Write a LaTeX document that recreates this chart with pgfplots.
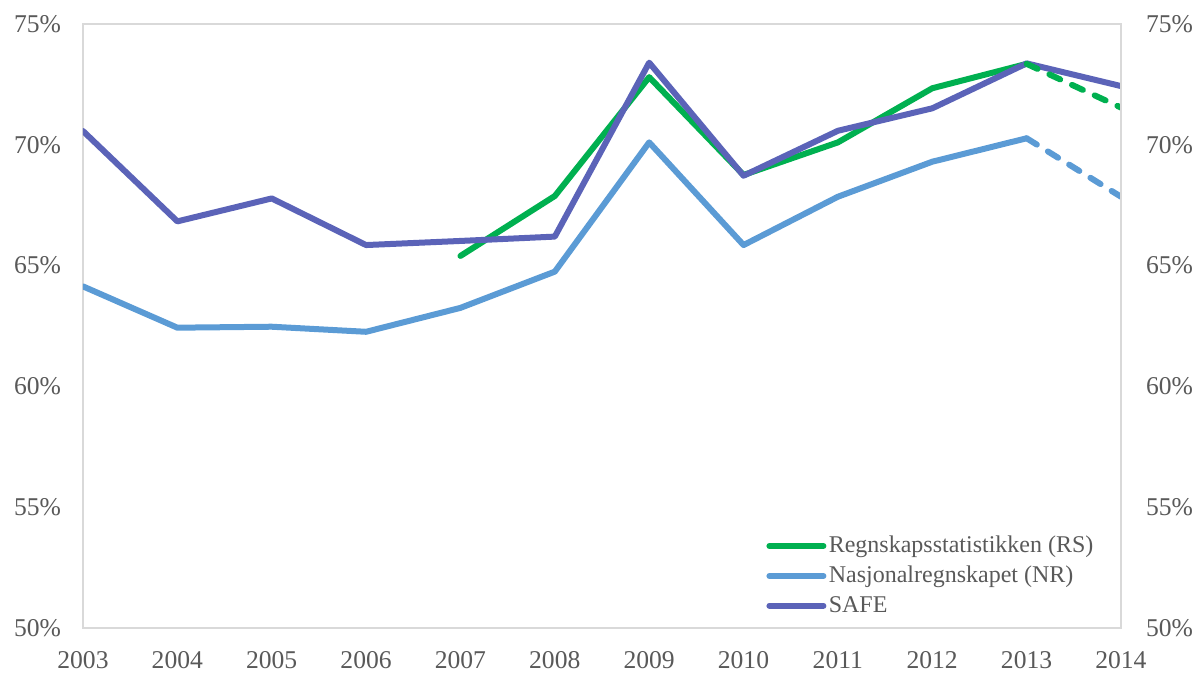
\documentclass[border=0pt]{standalone}
\usepackage{fontspec}
\setmainfont{Liberation Serif}
\usepackage{pgfplots}
\pgfplotsset{compat=1.18}

\definecolor{rsgreen}{HTML}{00B050}
\definecolor{nrblue}{HTML}{5B9BD5}
\definecolor{safepurple}{HTML}{5B63B8}
\definecolor{framegray}{HTML}{D9D9D9}
\definecolor{textgray}{HTML}{595959}

\pgfplotsset{
  base/.style={
    width=519pt, height=302pt, scale only axis,
    xmin=2003, xmax=2014, ymin=50, ymax=75,
    xtick={2003,...,2014},
    xticklabels={2003,2004,2005,2006,2007,2008,2009,2010,2011,2012,2013,2014},
    ytick={50,55,...,75},
    yticklabels={50\%,55\%,60\%,65\%,70\%,75\%},
    major tick length=0pt,
    axis line style={framegray, line width=0.8pt},
    tick label style={font=\fontsize{12.8}{14}\selectfont, text=textgray},
  },
  ser/.style={line width=3pt, line join=round, line cap=round},
}

\begin{document}
\begin{tikzpicture}
\begin{axis}[
  base,
  at={(0,0)}, anchor=south west,
  yticklabel style={xshift=-7.5pt},
  xticklabel style={yshift=-8pt},
  legend cell align=left,
  legend style={draw=none, fill=none, at={(0.658,0.012)}, anchor=south west,
    font=\fontsize{12}{14}\selectfont, text=textgray,
    nodes={inner xsep=1.2pt, inner ysep=2.6pt}, row sep=0pt, inner sep=0pt},
  legend image code/.code={\draw[#1] (0pt,0pt) -- (27pt,0pt);},
]
% RS
\addplot[ser, rsgreen] coordinates {
(2007,65.40) (2008,67.88) (2009,72.80) (2010,68.75) (2011,70.10) (2012,72.34) (2013,73.35)
};
\addlegendentry{Regnskapsstatistikken (RS)}
% NR
\addplot[ser, nrblue] coordinates {
(2003,64.14) (2004,62.43) (2005,62.47) (2006,62.26) (2007,63.25) (2008,64.75)
(2009,70.10) (2010,65.85) (2011,67.85) (2012,69.30) (2013,70.27)
};
\addlegendentry{Nasjonalregnskapet (NR)}
% SAFE
\addplot[ser, safepurple] coordinates {
(2003,70.57) (2004,66.83) (2005,67.78) (2006,65.85) (2007,66.02) (2008,66.20)
(2009,73.40) (2010,68.72) (2011,70.58) (2012,71.51) (2013,73.37) (2014,72.43)
};
\addlegendentry{SAFE}
% dashed estimates
\addplot[ser, rsgreen, dash pattern=on 6pt off 6.5pt, forget plot] coordinates {
(2013,73.35) (2014,71.54)
};
\addplot[ser, nrblue, dash pattern=on 6pt off 6.5pt, forget plot] coordinates {
(2013,70.27) (2014,67.85)
};
\end{axis}
\begin{axis}[
  base,
  at={(0,0)}, anchor=south west,
  axis y line*=right, axis x line=none,
  yticklabel style={xshift=9pt},
]
\end{axis}
\pgfresetboundingbox
\path (-41.5pt,-22.5pt) rectangle (557.5pt,314pt);
\end{tikzpicture}
\end{document}
